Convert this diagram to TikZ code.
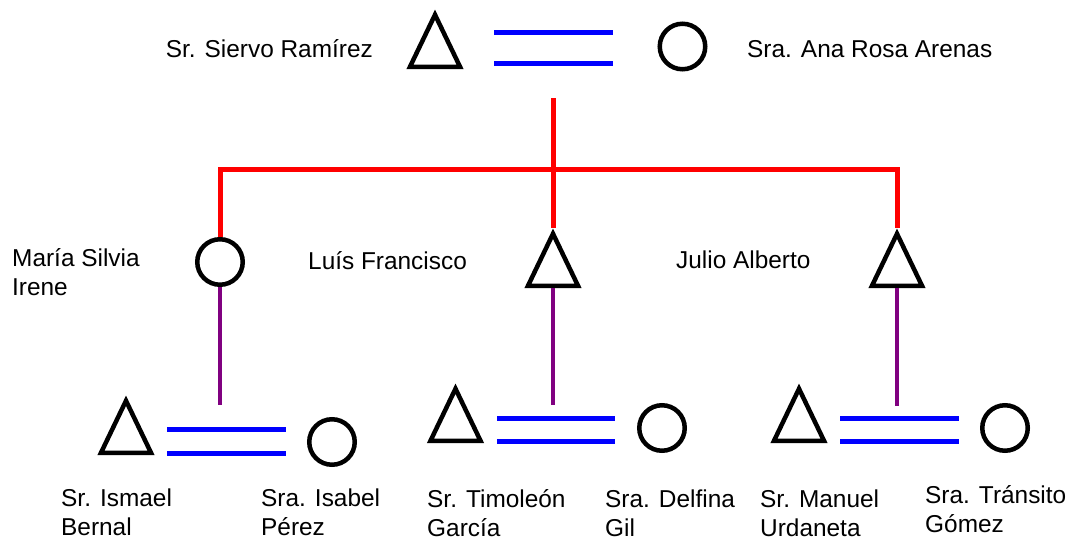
\documentclass[tikz,border=0pt]{standalone}
\usepackage{fontspec}
\setmainfont{Liberation Sans}
\usetikzlibrary{shapes.geometric}
\definecolor{kin}{RGB}{128,0,128}
\begin{document}
\begin{tikzpicture}[x=1pt,y=-1pt,
  male/.style={draw=black, line width=4.5pt, shape=isosceles triangle,
    shape border rotate=90, isosceles triangle stretches,
    minimum width=50pt, minimum height=52pt, inner sep=0pt, anchor=lower side},
  female/.style={draw=black, line width=4.5pt, circle, minimum size=45.5pt, inner sep=0pt},
  lbl/.style={font=\fontsize{24.4}{28.5}\selectfont, inner sep=0pt, align=left},
  marriage/.style={blue, line width=5pt},
  descent/.style={red, line width=5pt},
  offspring/.style={kin, line width=4.5pt}]
\useasboundingbox (0,0) rectangle (1067,538);
% people (triangles placed by the middle of their base)
\node[male]   (t0) at (435,69) {};
\node[female] (c0) at (682.5,46.5) {};
\node[female] (c1) at (220,262) {};
\node[male]   (t2) at (553,288) {};
\node[male]   (t3) at (897,288) {};
\node[male]   (t4) at (126,455) {};
\node[female] (c5) at (332,442) {};
\node[male]   (t6) at (455.5,443) {};
\node[female] (c7) at (662,428) {};
\node[male]   (t8) at (799,443) {};
\node[female] (c9) at (1005,428) {};
% marriage bars
\coordinate (m0a) at (494,32);  \coordinate (m0b) at (613,32);
\coordinate (m0c) at (494,63);  \coordinate (m0d) at (613,63);
\draw[marriage] (m0a) -- (m0b);
\draw[marriage] (m0c) -- (m0d);
\coordinate (m1a) at (167,429); \coordinate (m1b) at (286,429);
\coordinate (m1c) at (167,453); \coordinate (m1d) at (286,453);
\draw[marriage] (m1a) -- (m1b);
\draw[marriage] (m1c) -- (m1d);
\coordinate (m2a) at (497,418); \coordinate (m2b) at (615,418);
\coordinate (m2c) at (497,441); \coordinate (m2d) at (615,441);
\draw[marriage] (m2a) -- (m2b);
\draw[marriage] (m2c) -- (m2d);
\coordinate (m3a) at (840,418); \coordinate (m3b) at (959,418);
\coordinate (m3c) at (840,441); \coordinate (m3d) at (959,441);
\draw[marriage] (m3a) -- (m3b);
\draw[marriage] (m3c) -- (m3d);
% descent lines
\coordinate (stem) at (553,98);
\coordinate (junc) at (553,169);
\draw[descent] (stem) -- (t2.apex);
\draw[descent] (c1) |- (junc) -| (t3.apex);
% offspring lines
\coordinate (e1) at (220,405);
\coordinate (e2) at (553,405);
\coordinate (e3) at (897,406);
\draw[offspring] (c1) -- (e1);
\draw[offspring] (t2.lower side) -- (e2);
\draw[offspring] (t3.lower side) -- (e3);
% labels (multi-line nodes are placed by the baseline of their last line)
\node[lbl, anchor=base east] (l0) at (373,57) {Sr. Siervo Ramírez};
\node[lbl, anchor=base west] (l1) at (747,57) {Sra. Ana Rosa Arenas};
\node[lbl, anchor=base west] (l2) at (12,295) {María Silvia\\Irene};
\node[lbl, anchor=base west] (l3) at (308,269) {Luís Francisco};
\node[lbl, anchor=base west] (l4) at (676,268) {Julio Alberto};
\node[lbl, anchor=base west] (l5) at (61,535) {Sr. Ismael\\Bernal};
\node[lbl, anchor=base west] (l6) at (261,535) {Sra. Isabel\\Pérez};
\node[lbl, anchor=base west] (l7) at (427,536) {Sr. Timoleón\\García};
\node[lbl, anchor=base west] (l8) at (605,536) {Sra. Delfina\\Gil};
\node[lbl, anchor=base west] (l9) at (760,536) {Sr. Manuel\\Urdaneta};
\node[lbl, anchor=base west] (l10) at (925,532) {Sra. Tránsito\\Gómez};
\end{tikzpicture}
\end{document}
